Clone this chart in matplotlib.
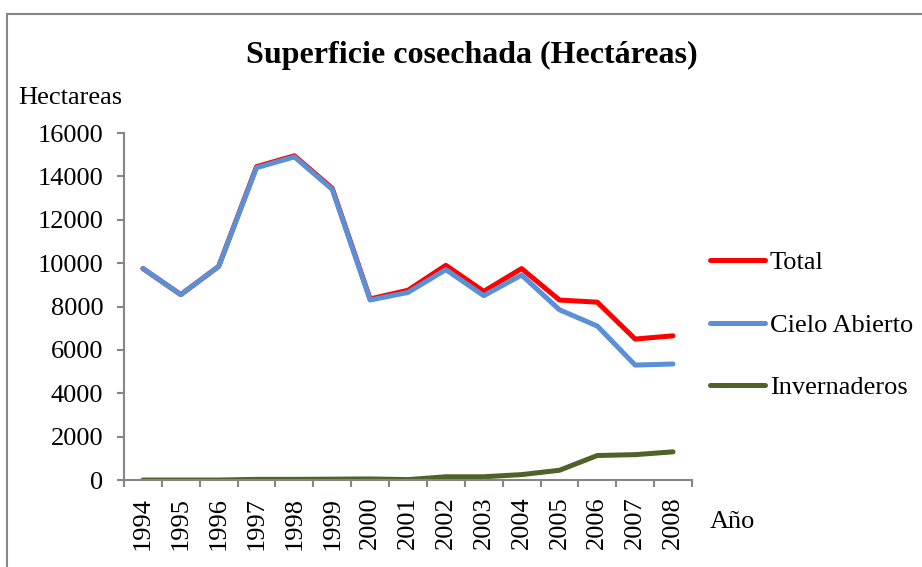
import numpy as np
import matplotlib.pyplot as plt
from matplotlib.patches import Rectangle

plt.rcParams['font.family'] = ['Liberation Serif', 'DejaVu Serif']

years = ['1994', '1995', '1996', '1997', '1998', '1999', '2000', '2001',
         '2002', '2003', '2004', '2005', '2006', '2007', '2008']
total = [9750, 8550, 9850, 14450, 14950, 13450, 8350, 8750,
         9900, 8700, 9750, 8300, 8200, 6500, 6650]
cielo_abierto = [9750, 8550, 9850, 14400, 14900, 13400, 8300, 8650,
                 9700, 8500, 9450, 7850, 7100, 5300, 5350]
invernaderos = [0, 0, 0, 30, 30, 40, 50, 20,
                150, 150, 250, 450, 1130, 1170, 1300]

fig = plt.figure(figsize=(9.22, 5.67), dpi=100)
ax = fig.add_axes([0.1345, 0.1534, 0.616, 0.612])

x = np.arange(len(years))
ax.plot(x, total, color='#ff0000', lw=3.6, label='Total', solid_capstyle='round')
ax.plot(x, cielo_abierto, color='#5b8fd6', lw=3.6, label='Cielo Abierto', solid_capstyle='round')
ax.plot(x, invernaderos, color='#4f6228', lw=3.6, label='Invernaderos', solid_capstyle='round')

ax.set_xlim(-0.5, len(years) - 0.5)
ax.set_ylim(0, 16000)
ax.set_yticks(np.arange(0, 16001, 2000))
ax.set_xticks(x)
ax.set_xticklabels(years, rotation=90)
ax.set_xticks(np.arange(-0.5, len(years)), minor=True)
ax.tick_params(axis='x', which='major', length=0, pad=12, labelsize=19)
ax.tick_params(axis='x', which='minor', length=5, color='#868686', width=1.5)
ax.tick_params(axis='y', length=5, color='#868686', width=1.5, pad=10, labelsize=19)

for s in ['top', 'right']:
    ax.spines[s].set_visible(False)
for s in ['left', 'bottom']:
    ax.spines[s].set_color('#868686')
    ax.spines[s].set_linewidth(1.5)

fig.text(0.512, 0.903, 'Superficie cosechada (Hectáreas)', ha='center', va='center',
         fontsize=23, fontweight='bold')
fig.text(0.02, 0.828, 'Hectareas', ha='left', va='center', fontsize=19)
fig.text(0.770, 0.079, 'Año', ha='left', va='center', fontsize=19)

ax.legend(loc='center left', bbox_to_anchor=(0.770, 0.4268), bbox_transform=fig.transFigure,
          frameon=False, fontsize=19, handlelength=2.08, handletextpad=0.19,
          labelspacing=1.47, borderaxespad=0, borderpad=0)

fig.patches.append(Rectangle((0.008, -0.05), 1.1, 1.025, transform=fig.transFigure,
                             fill=False, edgecolor='#868686', lw=1.5))

fig.savefig('out.png', dpi=100)
